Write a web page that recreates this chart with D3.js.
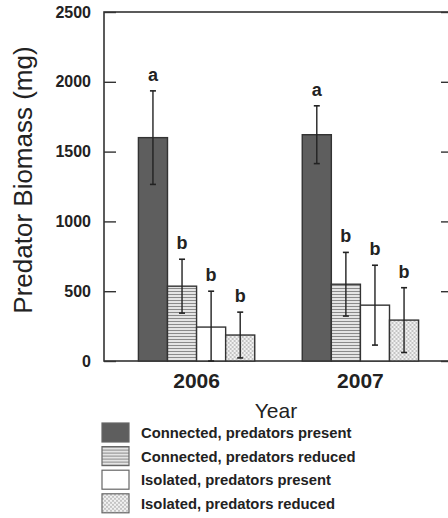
<!DOCTYPE html>
<html>
<head>
<meta charset="utf-8">
<script src="https://cdn.jsdelivr.net/npm/d3@7"></script>
<style>
  body { margin: 0; background: #fff; }
  text { font-family: "Liberation Sans", Arial, sans-serif; }
</style>
</head>
<body>
<div id="chart"></div>
<script>
var years = ["2006", "2007"],
	groups = ["Connected, predators present", "Connected, predators reduced",
		"Isolated, predators present", "Isolated, predators reduced"],
	means2006 = [1600, 536, 243, 186],
	means2007 = [1621, 550, 400, 293],
	errs2006 = [335, 193, 257, 164],
	errs2007 = [207, 228, 286, 232],
	letters2006 = ["a", "b", "b", "b"],
	letters2007 = ["a", "b", "b", "b"],
	yTicks = [0, 500, 1000, 1500, 2000, 2500];

var width = 448,
	height = 518,
	pLeft = 104, pRight = 453, pTop = 12, pBottom = 361;

var rows = [];
years.forEach(function(yr, i) {
	var m = i ? means2007 : means2006,
		e = i ? errs2007 : errs2006,
		l = i ? letters2007 : letters2006;
	groups.forEach(function(g, j) {
		rows.push({ year: yr, group: g, mean: m[j], err: e[j], letter: l[j] });
	});
});

var svg = d3.select('#chart').append('svg')
	.attr('width', width)
	.attr('height', height);

var defs = svg.append('defs');

var stripes = defs.append('pattern')
	.attr('id', 'stripes')
	.attr('patternUnits', 'userSpaceOnUse')
	.attr('width', 4).attr('height', 3);
stripes.append('rect').attr('width', 4).attr('height', 3).attr('fill', '#e4e4e4');
stripes.append('rect').attr('width', 4).attr('height', 1).attr('fill', '#8a8a8a');

var dots = defs.append('pattern')
	.attr('id', 'dots')
	.attr('patternUnits', 'userSpaceOnUse')
	.attr('width', 4).attr('height', 4);
dots.append('rect').attr('width', 4).attr('height', 4).attr('fill', '#f2f2f2');
dots.append('rect').attr('width', 2).attr('height', 2).attr('fill', '#c4c4c4');
dots.append('rect').attr('x', 2).attr('y', 2).attr('width', 2).attr('height', 2).attr('fill', '#c4c4c4');

var fill = d3.scaleOrdinal()
	.domain(groups)
	.range(['#5e5e5e', 'url(#stripes)', '#ffffff', 'url(#dots)']);

var x = d3.scaleBand()
	.domain(years)
	.range([pLeft, pRight])
	.paddingInner(0.29)
	.paddingOuter(0.21);

var xi = d3.scaleBand()
	.domain(groups)
	.range([0, x.bandwidth()]);

var y = d3.scaleLinear()
	.domain([0, 2500])
	.range([pBottom, pTop])
	.clamp(true);

// frame
svg.append('rect')
	.attr('x', pLeft).attr('y', pTop)
	.attr('width', pRight - pLeft).attr('height', pBottom - pTop)
	.attr('fill', 'none')
	.attr('stroke', '#333')
	.attr('stroke-width', 1.6);

var yAxis = svg.append('g')
	.attr('transform', 'translate(' + pLeft + ',0)')
	.call(d3.axisLeft(y).tickValues(yTicks).tickFormat(d3.format('d'))
		.tickSizeInner(-12).tickSizeOuter(0).tickPadding(13));
yAxis.select('.domain').remove();
yAxis.selectAll('line').attr('stroke', '#333').attr('stroke-width', 1.4);
yAxis.selectAll('text')
	.attr('font-size', 16)
	.attr('font-weight', 'bold')
	.attr('fill', '#222')
	.attr('font-family', '"Liberation Sans", Arial, sans-serif');

var yAxisR = svg.append('g')
	.attr('transform', 'translate(' + pRight + ',0)')
	.call(d3.axisRight(y).tickValues(yTicks).tickSizeInner(-12).tickSizeOuter(0).tickFormat(''));
yAxisR.select('.domain').remove();
yAxisR.selectAll('line').attr('stroke', '#333').attr('stroke-width', 1.4);

var bars = svg.append('g').selectAll('g')
	.data(rows)
	.enter().append('g')
	.attr('transform', function(d) { return 'translate(' + (x(d.year) + xi(d.group)) + ',0)'; });

bars.append('rect')
	.attr('y', function(d) { return y(d.mean); })
	.attr('width', xi.bandwidth())
	.attr('height', function(d) { return pBottom - y(d.mean); })
	.attr('fill', function(d) { return fill(d.group); })
	.attr('stroke', '#333')
	.attr('stroke-width', 1.4);

var cx = xi.bandwidth() / 2;
bars.append('line')
	.attr('x1', cx).attr('x2', cx)
	.attr('y1', function(d) { return y(d.mean + d.err); })
	.attr('y2', function(d) { return y(d.mean - d.err); })
	.attr('stroke', '#222').attr('stroke-width', 1.4);
bars.append('line')
	.attr('x1', cx - 3).attr('x2', cx + 3)
	.attr('y1', function(d) { return y(d.mean + d.err); })
	.attr('y2', function(d) { return y(d.mean + d.err); })
	.attr('stroke', '#222').attr('stroke-width', 1.6);
bars.append('line')
	.attr('x1', cx - 3).attr('x2', cx + 3)
	.attr('y1', function(d) { return y(d.mean - d.err); })
	.attr('y2', function(d) { return y(d.mean - d.err); })
	.attr('stroke', '#222').attr('stroke-width', 1.6);

bars.append('text')
	.attr('x', cx)
	.attr('y', function(d) { return y(d.mean + d.err) - 10; })
	.attr('text-anchor', 'middle')
	.attr('font-size', 18)
	.attr('font-weight', 'bold')
	.attr('fill', '#222')
	.text(function(d) { return d.letter; });

// x labels
svg.append('g').selectAll('text')
	.data(years)
	.enter().append('text')
	.attr('x', function(d) { return x(d) + x.bandwidth() / 2; })
	.attr('y', 388)
	.attr('text-anchor', 'middle')
	.attr('font-size', 21)
	.attr('font-weight', 'bold')
	.attr('fill', '#222')
	.text(function(d) { return d; });

svg.append('text')
	.attr('x', 276)
	.attr('y', 418)
	.attr('text-anchor', 'middle')
	.attr('font-size', 21)
	.attr('fill', '#222')
	.text('Year');

svg.append('text')
	.attr('transform', 'translate(32,180) rotate(-90)')
	.attr('text-anchor', 'middle')
	.attr('font-size', 26)
	.attr('fill', '#222')
	.text('Predator Biomass (mg)');

// legend
var legend = svg.append('g').selectAll('g')
	.data(groups)
	.enter().append('g')
	.attr('transform', function(d, i) { return 'translate(102,' + (423 + i * 23.6) + ')'; });

legend.append('rect')
	.attr('width', 27).attr('height', 19)
	.attr('fill', function(d) { return fill(d); })
	.attr('stroke', '#666')
	.attr('stroke-width', 1.2);

legend.append('text')
	.attr('x', 39)
	.attr('y', 15)
	.attr('font-size', 14.8)
	.attr('font-weight', 'bold')
	.attr('fill', '#222')
	.text(function(d) { return d; });
</script>
</body>
</html>
